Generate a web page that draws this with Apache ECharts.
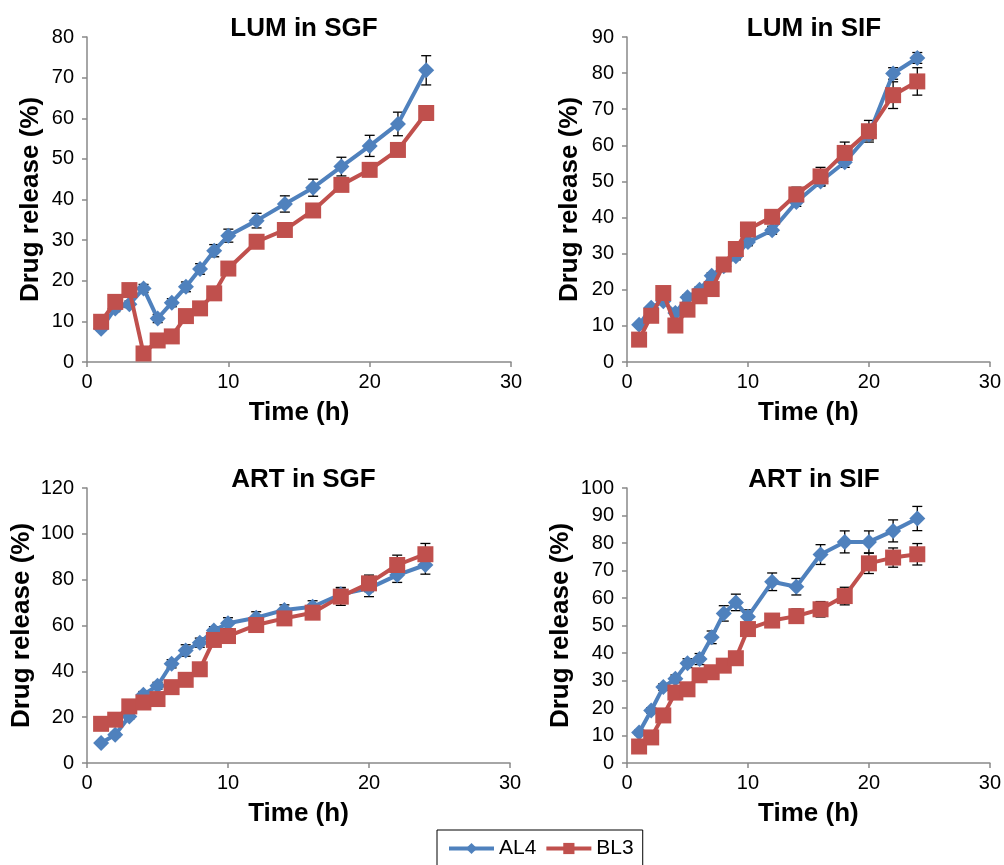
<!DOCTYPE html>
<html>
<head>
<meta charset="utf-8">
<script src="https://cdn.jsdelivr.net/npm/echarts@6/dist/echarts.min.js"></script>
<style>
html,body{margin:0;padding:0;background:#fff;}
#c{width:1004px;height:865px;}
</style>
</head>
<body>
<div id="c"></div>
<script>
// ---- data ----
const times = [1,2,3,4,5,6,7,8,9,10,12,14,16,18,20,22,24];
const seriesNames = ['AL4','BL3'];
const panelTitles = ['LUM in SGF','LUM in SIF','ART in SGF','ART in SIF'];
const xTicks = [0,10,20,30];

const lumSgfAL4 = [8.2,13.2,14.2,18.1,10.7,14.6,18.5,22.9,27.4,31.1,34.8,38.9,42.9,48.1,53.2,58.6,71.8];
const lumSgfBL3 = [9.9,14.8,17.7,2.1,5.3,6.3,11.3,13.2,16.9,23.0,29.6,32.5,37.3,43.6,47.3,52.2,61.3];
const lumSgfAL4Err = [0.5,0.8,0.8,1.0,1.0,1.0,1.2,1.3,1.5,1.6,1.8,2.0,2.1,2.3,2.6,2.9,3.6];
const lumSgfBL3Err = [0.5,0.6,0.6,0.5,0.5,0.5,0.6,0.7,0.8,1.0,1.0,1.2,1.3,1.4,1.5,1.6,1.8];

const lumSifAL4 = [10.3,15.0,16.8,13.6,17.9,20.0,23.9,26.5,29.3,33.2,36.5,44.3,50.0,55.3,63.0,79.9,84.2];
const lumSifBL3 = [6.2,12.8,19.1,10.1,14.5,18.2,20.2,27.0,31.3,36.7,40.2,46.4,51.4,57.9,63.9,73.9,77.7];
const lumSifAL4Err = [0.5,0.6,0.6,0.6,0.7,0.8,0.8,0.9,1.0,1.0,1.1,1.2,1.3,1.4,1.5,1.6,1.5];
const lumSifBL3Err = [0.5,0.6,0.8,0.6,0.8,0.9,1.0,1.2,1.3,1.5,1.6,2.0,2.5,3.0,3.0,3.7,3.8];

const artSgfAL4 = [8.7,12.3,20.3,29.8,33.7,43.3,49.1,52.5,57.8,61.0,63.4,66.8,68.2,73.6,76.2,82.0,86.4];
const artSgfBL3 = [17.1,18.9,24.7,26.4,27.9,33.1,36.3,40.9,53.7,55.4,60.2,63.1,65.6,72.6,78.4,86.4,91.1];
const artSgfAL4Err = [0.8,1.0,1.2,1.4,1.5,1.8,2.5,2.0,1.7,2.4,2.6,2.2,2.6,3.0,3.6,3.2,4.0];
const artSgfBL3Err = [0.8,0.9,1.0,1.1,1.2,1.3,1.4,1.5,1.6,1.8,2.0,2.2,2.4,3.8,3.6,4.3,4.7];

const artSifAL4 = [11.1,19.1,27.6,30.6,36.3,37.8,45.7,54.4,58.4,53.2,65.9,64.1,75.8,80.4,80.4,84.4,88.9];
const artSifBL3 = [6.0,9.3,17.3,25.6,26.8,31.9,33.0,35.4,38.1,48.7,51.8,53.4,55.9,60.7,72.6,74.7,75.9];
const artSifAL4Err = [0.8,1.0,1.2,1.4,1.6,2.0,2.3,2.8,3.0,2.5,3.2,3.0,3.6,4.0,4.0,4.0,4.4];
const artSifBL3Err = [0.6,0.8,1.0,1.2,1.3,1.5,1.6,1.8,2.0,2.2,2.4,2.6,2.8,3.2,3.7,3.5,3.9];

const panelAL4 = [lumSgfAL4, lumSifAL4, artSgfAL4, artSifAL4];
const panelBL3 = [lumSgfBL3, lumSifBL3, artSgfBL3, artSifBL3];
const panelAL4Err = [lumSgfAL4Err, lumSifAL4Err, artSgfAL4Err, artSifAL4Err];
const panelBL3Err = [lumSgfBL3Err, lumSifBL3Err, artSgfBL3Err, artSifBL3Err];
const yMax = [80, 90, 120, 100];
const yInterval = [10, 10, 20, 10];

// ---- layout / style ----
const FONT = '"Liberation Sans", Arial, sans-serif';
const BLUE = '#4F81BD', RED = '#C0504D', AXIS = '#898989';
const grids = [
  {left: 87, top: 37, width: 424, height: 325},
  {left: 627, top: 37, width: 364, height: 325},
  {left: 87, top: 488, width: 423, height: 275},
  {left: 627, top: 488, width: 364, height: 275}
];
const yNameGap = [43, 44, 52, 53];

function errRender(params, api) {
  const x = api.value(0), lo = api.value(1), hi = api.value(2);
  const p1 = api.coord([x, hi]);
  const p2 = api.coord([x, lo]);
  const w = 5;
  const st = {stroke: '#000', lineWidth: 1.3};
  return {type: 'group', children: [
    {type: 'line', shape: {x1: p1[0], y1: p1[1], x2: p2[0], y2: p2[1]}, style: st},
    {type: 'line', shape: {x1: p1[0]-w, y1: p1[1], x2: p1[0]+w, y2: p1[1]}, style: st},
    {type: 'line', shape: {x1: p2[0]-w, y1: p2[1], x2: p2[0]+w, y2: p2[1]}, style: st}
  ]};
}

const xAxes = [], yAxes = [], series = [], titles = [];
grids.forEach((g, i) => {
  xAxes.push({
    gridIndex: i, type: 'value', min: xTicks[0], max: xTicks[xTicks.length-1], interval: 10,
    name: 'Time (h)', nameLocation: 'middle', nameGap: 38,
    nameTextStyle: {fontFamily: FONT, fontSize: 26, fontWeight: 'bold', color: '#000'},
    axisLine: {show: true, onZero: false, lineStyle: {color: AXIS, width: 1.5}},
    axisTick: {show: true, length: 5, lineStyle: {color: AXIS, width: 1.5}},
    axisLabel: {fontFamily: FONT, fontSize: 20, color: '#000', margin: 10},
    splitLine: {show: false}
  });
  yAxes.push({
    gridIndex: i, type: 'value', min: 0, max: yMax[i], interval: yInterval[i],
    name: 'Drug release (%)', nameLocation: 'middle', nameGap: yNameGap[i],
    nameTextStyle: {fontFamily: FONT, fontSize: 26, fontWeight: 'bold', color: '#000'},
    axisLine: {show: true, lineStyle: {color: AXIS, width: 1.5}},
    axisTick: {show: true, length: 5, lineStyle: {color: AXIS, width: 1.5}},
    axisLabel: {fontFamily: FONT, fontSize: 20, color: '#000', margin: 13},
    splitLine: {show: false}
  });
  titles.push({
    text: panelTitles[i], left: g.left + g.width/2, textAlign: 'center', top: g.top - 26,
    textStyle: {fontFamily: FONT, fontSize: 26, fontWeight: 'bold', color: '#000'}
  });
  const al = panelAL4[i], bl = panelBL3[i], ae = panelAL4Err[i], be = panelBL3Err[i];
  series.push({
    type: 'custom', name: 'errA' + i, xAxisIndex: i, yAxisIndex: i, z: 1,
    renderItem: errRender, encode: {x: 0, y: [1, 2]},
    data: times.map((t, k) => [t, al[k] - ae[k], al[k] + ae[k]])
  });
  series.push({
    type: 'custom', name: 'errB' + i, xAxisIndex: i, yAxisIndex: i, z: 1,
    renderItem: errRender, encode: {x: 0, y: [1, 2]},
    data: times.map((t, k) => [t, bl[k] - be[k], bl[k] + be[k]])
  });
  series.push({
    type: 'line', name: seriesNames[0], xAxisIndex: i, yAxisIndex: i, z: 3,
    data: times.map((t, k) => [t, al[k]]),
    symbol: 'diamond', symbolSize: 16, showAllSymbol: true,
    lineStyle: {color: BLUE, width: 4}, itemStyle: {color: BLUE},
    animation: false
  });
  series.push({
    type: 'line', name: seriesNames[1], xAxisIndex: i, yAxisIndex: i, z: 4,
    data: times.map((t, k) => [t, bl[k]]),
    symbol: 'rect', symbolSize: 16, showAllSymbol: true,
    lineStyle: {color: RED, width: 4}, itemStyle: {color: RED},
    animation: false
  });
});

const chart = echarts.init(document.getElementById('c'), null, {renderer: 'canvas'});
chart.setOption({
  animation: false,
  backgroundColor: '#fff',
  title: titles,
  grid: grids,
  xAxis: xAxes,
  yAxis: yAxes,
  legend: {
    data: seriesNames, left: 437, top: 830,
    padding: [8, 9, 10, 10], itemGap: 8, itemWidth: 45, itemHeight: 14,
    borderColor: '#000', borderWidth: 1,
    lineStyle: {width: 4},
    textStyle: {fontFamily: FONT, fontSize: 21, color: '#000'}
  },
  series: series
});
</script>
</body>
</html>
